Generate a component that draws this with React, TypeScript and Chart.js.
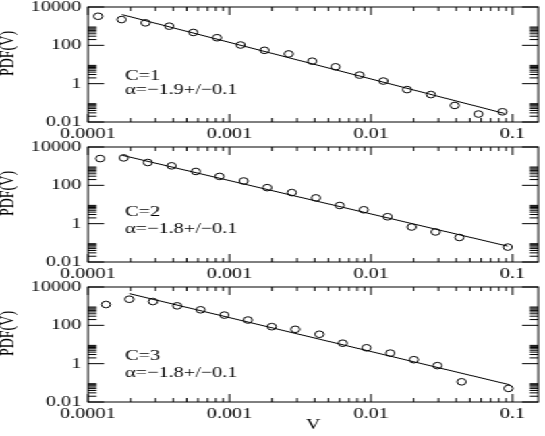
import React, { useEffect, useRef } from "react";
import { Chart, registerables } from "chart.js";

Chart.register(...registerables);

// ---- data ----
const v1 = [0.000118, 0.000173, 0.000255, 0.000375, 0.000555, 0.000817, 0.0012, 0.00177, 0.00262, 0.00384, 0.00561, 0.00831, 0.01225, 0.018, 0.0265, 0.039, 0.0574, 0.0849];
const pdf1 = [3290, 2210, 1490, 1000, 470, 249, 104, 55, 35.6, 14.9, 7.57, 2.8, 1.37, 0.49, 0.27, 0.073, 0.026, 0.034];
const fitV1 = [0.000174, 0.0875];
const fitPdf1 = [4010, 0.028];

const v2 = [0.000122, 0.000179, 0.000265, 0.00039, 0.000578, 0.00085, 0.00126, 0.00185, 0.00276, 0.00408, 0.00601, 0.00889, 0.0131, 0.0194, 0.0286, 0.0421, 0.0925];
const pdf2 = [2490, 2700, 1550, 1040, 530, 292, 168, 75.7, 41.8, 22.1, 8.88, 5.3, 2.3, 0.67, 0.37, 0.19, 0.06];
const fitV2 = [0.000174, 0.0925];
const fitPdf2 = [3710, 0.067];

const v3 = [0.000134, 0.000196, 0.000288, 0.000427, 0.000625, 0.00092, 0.00135, 0.00199, 0.00292, 0.00432, 0.00631, 0.00929, 0.01368, 0.0201, 0.0295, 0.0437, 0.0935];
const pdf3 = [1220, 2300, 1740, 1040, 646, 342, 189, 85.3, 62.1, 34.2, 11.7, 6.73, 3.56, 1.61, 0.79, 0.113, 0.051];
const fitV3 = [0.000196, 0.0957];
const fitPdf3 = [4520, 0.079];

const xTickValues = [0.0001, 0.001, 0.01, 0.1];
const xTickLabels = ["0.0001", "0.001", "0.01", "0.1"];
const yTickValues = [0.01, 1, 100, 10000];
const yTickLabels = ["0.01", "1", "100", "10000"];
const xMin = 0.0001;
const xMax = 0.152;
const yMin = 0.01;
const yMax = 10000;

const panelNames = ["C=1", "C=2", "C=3"];
const alphaTexts = ["α=−1.9+/−0.1", "α=−1.8+/−0.1", "α=−1.8+/−0.1"];
const yTitle = "PDF(V)";
const xTitle = "V";

const allV = [v1, v2, v3];
const allPdf = [pdf1, pdf2, pdf3];
const allFitV = [fitV1, fitV2, fitV3];
const allFitPdf = [fitPdf1, fitPdf2, fitPdf3];

// ---- layout (positions / styles) ----
const INNER_W = 404;
const STRETCH = 545 / INNER_W;
const AREA_LEFT = 65.2;
const AREA_RIGHT = 402.5;
const AREA_TOP = 7;
const AREA_BOTTOM = 122;
const FONT = '"Liberation Serif", "Times New Roman", serif';
const NAME_Y = [76.5, 72, 76.5];
const ALPHA_Y = [90.5, 89.5, 93];

function minorValues(majors: number[], min: number, max: number) {
  const out: number[] = [];
  for (let i = 0; i < majors.length; i++) {
    for (let k = 2; k <= 9; k++) {
      const v = majors[i] * k;
      if (v > min && v < max) out.push(v);
    }
  }
  return out;
}

function makeDecor(idx: number) {
  return {
    id: "decor" + idx,
    afterDraw(chart: any) {
      const { ctx, chartArea: a } = chart;
      const x = chart.scales.x;
      const y = chart.scales.y;
      ctx.save();
      ctx.strokeStyle = "#000";
      ctx.lineWidth = 1;
      ctx.beginPath();
      for (const v of xTickValues) {
        const px = x.getPixelForValue(v);
        ctx.moveTo(px, a.bottom);
        ctx.lineTo(px, a.bottom - 8);
        ctx.moveTo(px, a.top);
        ctx.lineTo(px, a.top + 8);
      }
      for (const v of minorValues(xTickValues, xMin, xMax)) {
        const px = x.getPixelForValue(v);
        ctx.moveTo(px, a.bottom);
        ctx.lineTo(px, a.bottom - 4);
        ctx.moveTo(px, a.top);
        ctx.lineTo(px, a.top + 4);
      }
      for (const v of yTickValues) {
        const py = y.getPixelForValue(v);
        ctx.moveTo(a.left, py);
        ctx.lineTo(a.left + 12, py);
        ctx.moveTo(a.right, py);
        ctx.lineTo(a.right - 12, py);
      }
      for (const v of minorValues(yTickValues, yMin, yMax)) {
        const py = y.getPixelForValue(v);
        ctx.moveTo(a.left, py);
        ctx.lineTo(a.left + 6.3, py);
        ctx.moveTo(a.right, py);
        ctx.lineTo(a.right - 6.3, py);
      }
      ctx.stroke();
      ctx.strokeRect(a.left, a.top, a.right - a.left, a.bottom - a.top);

      ctx.fillStyle = "#000";
      ctx.font = "15px " + FONT;
      ctx.textBaseline = "middle";
      ctx.textAlign = "left";
      ctx.fillText(panelNames[idx], a.left + 27.5, NAME_Y[idx]);
      ctx.fillText(alphaTexts[idx], a.left + 27.5, ALPHA_Y[idx]);

      ctx.translate(6.8, 53.5);
      ctx.rotate(-Math.PI / 2);
      ctx.textAlign = "center";
      ctx.font = "14px " + FONT;
      ctx.fillText(yTitle, 0, 0);
      ctx.restore();
    },
  };
}

function Panel({ idx, top, height, showXTitle }: { idx: number; top: number; height: number; showXTitle: boolean }) {
  const ref = useRef<HTMLCanvasElement>(null);
  useEffect(() => {
    const canvas = ref.current!;
    const pts = allV[idx].map((v, i) => ({ x: v, y: allPdf[idx][i] }));
    const fit = allFitV[idx].map((v, i) => ({ x: v, y: allFitPdf[idx][i] }));
    const tickFont = { family: FONT, size: 15 };
    const chart = new Chart(canvas, {
      type: "scatter",
      data: {
        datasets: [
          { data: fit, showLine: true, borderColor: "#000", borderWidth: 1, pointRadius: 0, fill: false },
          {
            data: pts,
            showLine: false,
            pointStyle: "circle",
            pointRadius: 3.3,
            borderColor: "#000",
            borderWidth: 1,
            backgroundColor: "rgba(0,0,0,0)",
          },
        ],
      } as any,
      options: {
        animation: false,
        responsive: false,
        maintainAspectRatio: false,
        layout: { padding: { left: 0, right: INNER_W - AREA_RIGHT, top: AREA_TOP, bottom: 0 } },
        plugins: { legend: { display: false }, tooltip: { enabled: false } },
        scales: {
          x: {
            type: "logarithmic",
            min: xMin,
            max: xMax,
            grid: { display: false, drawTicks: false },
            border: { display: false },
            afterBuildTicks: (s: any) => {
              s.ticks = xTickValues.map((v) => ({ value: v }));
            },
            afterFit: (s: any) => {
              s.height = height - AREA_BOTTOM;
              s.paddingLeft = 0;
              s.paddingRight = 0;
            },
            ticks: {
              autoSkip: false,
              maxRotation: 0,
              minRotation: 0,
              padding: 3,
              color: "#000",
              font: tickFont,
              callback: (_v: any, i: number) => xTickLabels[i],
            },
            title: {
              display: showXTitle,
              text: xTitle,
              color: "#000",
              font: { family: FONT, size: 15 },
              padding: { top: 0, bottom: 2 },
            },
          },
          y: {
            type: "logarithmic",
            min: yMin,
            max: yMax,
            grid: { display: false, drawTicks: false },
            border: { display: false },
            afterBuildTicks: (s: any) => {
              s.ticks = yTickValues.map((v) => ({ value: v }));
            },
            afterFit: (s: any) => {
              s.width = AREA_LEFT;
              s.paddingTop = 0;
              s.paddingBottom = 0;
            },
            ticks: {
              autoSkip: false,
              padding: 5,
              color: "#000",
              font: tickFont,
              callback: (_v: any, i: number) => yTickLabels[i],
            },
          },
        },
      } as any,
      plugins: [makeDecor(idx)],
    });
    return () => chart.destroy();
  }, [idx, height, showXTitle]);
  return (
    <canvas
      ref={ref}
      width={INNER_W}
      height={height}
      style={{ position: "absolute", left: 0, top, width: INNER_W, height }}
    />
  );
}

export default function App() {
  return (
    <div style={{ position: "absolute", left: 0, top: 0, width: 545, height: 436, overflow: "hidden", background: "#fff" }}>
      <div
        style={{
          position: "absolute",
          left: 0,
          top: 0,
          width: INNER_W,
          height: 436,
          transform: `scaleX(${STRETCH})`,
          transformOrigin: "0 0",
        }}
      >
        <Panel idx={0} top={0} height={140} showXTitle={false} />
        <Panel idx={1} top={140} height={140} showXTitle={false} />
        <Panel idx={2} top={280} height={156} showXTitle={true} />
      </div>
    </div>
  );
}
